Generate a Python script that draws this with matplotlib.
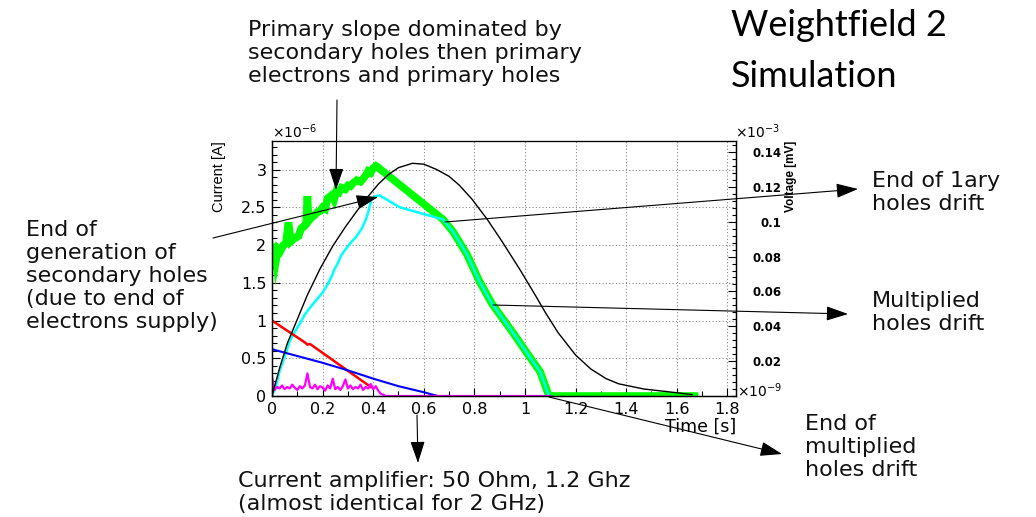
import numpy as np
import matplotlib.pyplot as plt
from matplotlib.patches import FancyArrowPatch
from matplotlib.ticker import MultipleLocator

W, H = 1036, 517

# ---- current components, time in s, current in 1e-6 A ----
green_t = [0.0, 0.008, 0.016, 0.024, 0.033, 0.045, 0.055, 0.065, 0.075, 0.085,
           0.095, 0.105, 0.115, 0.125, 0.135, 0.140, 0.145, 0.155, 0.17, 0.18,
           0.19, 0.20, 0.21, 0.22, 0.235, 0.245, 0.255, 0.265, 0.275, 0.29,
           0.30, 0.31, 0.32, 0.335, 0.35, 0.36, 0.37, 0.38, 0.39, 0.40,
           0.41, 0.42, 0.43, 0.676, 0.715, 0.77, 0.82, 0.87, 0.95, 1.01,
           1.06, 1.095, 1.67]
green_i = [1.75, 2.02, 1.80, 1.95, 1.92, 2.00, 2.02, 2.30, 2.05, 2.08,
           2.10, 2.12, 2.22, 2.25, 2.28, 2.65, 2.32, 2.36, 2.40, 2.44,
           2.45, 2.50, 2.48, 2.62, 2.66, 2.60, 2.72, 2.70, 2.76, 2.74,
           2.79, 2.78, 2.82, 2.86, 2.84, 2.88, 2.92, 2.98, 2.96, 3.02,
           3.05, 3.03, 3.00, 2.34, 2.18, 1.88, 1.52, 1.22, 0.85, 0.56,
           0.32, 0.0, 0.0]

cyan_t = [0.0, 0.015, 0.03, 0.05, 0.07, 0.09, 0.11, 0.13, 0.15, 0.175,
          0.20, 0.22, 0.235, 0.247, 0.26, 0.273, 0.29, 0.313, 0.33, 0.353,
          0.37, 0.38, 0.393, 0.41, 0.425, 0.506, 0.676, 0.715, 0.77, 0.82,
          0.87, 0.95, 1.01, 1.06, 1.095]
cyan_i = [0.0, 0.12, 0.33, 0.52, 0.73, 0.85, 0.96, 1.08, 1.17, 1.27,
          1.37, 1.48, 1.58, 1.68, 1.76, 1.86, 1.94, 2.04, 2.10, 2.21,
          2.33, 2.43, 2.61, 2.65, 2.66, 2.50, 2.34, 2.18, 1.88, 1.52,
          1.22, 0.85, 0.56, 0.32, 0.0]

red_t = [0.0, 0.13, 0.14, 0.15, 0.39]
red_i = [1.0, 0.71, 0.68, 0.69, 0.12]

blue_t = [0.0, 0.1, 0.2, 0.3, 0.4, 0.5, 0.6, 0.655, 0.70]
blue_i = [0.62, 0.53, 0.44, 0.34, 0.23, 0.13, 0.05, 0.0, 0.0]

mag_t = [0.00, 0.01, 0.02, 0.03, 0.04, 0.05, 0.06, 0.07, 0.08, 0.09,
         0.10, 0.11, 0.12, 0.13, 0.14, 0.15, 0.16, 0.17, 0.18, 0.19,
         0.20, 0.21, 0.22, 0.23, 0.24, 0.25, 0.26, 0.27, 0.28, 0.29,
         0.30, 0.31, 0.32, 0.33, 0.34, 0.35, 0.36, 0.37, 0.38, 0.39,
         0.40, 0.41, 0.42, 0.43, 0.45, 1.10]
mag_i = [0.25, 0.08, 0.12, 0.10, 0.14, 0.09, 0.12, 0.10, 0.15, 0.11,
         0.08, 0.13, 0.10, 0.14, 0.30, 0.12, 0.10, 0.15, 0.09, 0.13,
         0.11, 0.07, 0.14, 0.10, 0.23, 0.09, 0.12, 0.08, 0.13, 0.22,
         0.10, 0.14, 0.09, 0.12, 0.10, 0.15, 0.08, 0.12, 0.10, 0.16,
         0.09, 0.13, 0.07, 0.03, 0.0, 0.0]

# ---- amplifier output, voltage in 1e-3 mV ----
volt_t = [0, 0.03, 0.06, 0.10, 0.14, 0.19, 0.24, 0.29, 0.34, 0.38,
          0.42, 0.46, 0.50, 0.555, 0.60, 0.65, 0.70, 0.74, 0.79, 0.85,
          0.91, 0.98, 1.04, 1.08, 1.13, 1.20, 1.26, 1.32, 1.37, 1.47,
          1.58, 1.66]
volt_v = [0, 0.016, 0.030, 0.044, 0.058, 0.073, 0.086, 0.097, 0.107, 0.1145,
          0.1215, 0.127, 0.131, 0.1335, 0.133, 0.130, 0.126, 0.121, 0.113, 0.1015,
          0.0885, 0.0725, 0.058, 0.048, 0.0365, 0.0235, 0.0155, 0.010, 0.007, 0.004,
          0.0022, 0.0008]

x_ticks = [0, 0.2, 0.4, 0.6, 0.8, 1.0, 1.2, 1.4, 1.6, 1.8]
x_labels = ['0', '0.2', '0.4', '0.6', '0.8', '1', '1.2', '1.4', '1.6', '1.8']
i_ticks = [0, 0.5, 1, 1.5, 2, 2.5, 3]
i_labels = ['0', '0.5', '1', '1.5', '2', '2.5', '3']
v_ticks = [0.02, 0.04, 0.06, 0.08, 0.10, 0.12, 0.14]
v_labels = ['0.02', '0.04', '0.06', '0.08', '0.1', '0.12', '0.14']

fig = plt.figure(figsize=(W / 100, H / 100), dpi=100)
ax = fig.add_axes([272 / W, 1 - 396 / H, (736 - 272) / W, (396 - 141) / H])

ax.plot(green_t, green_i, color='#00ff00', lw=5.5, solid_joinstyle='miter')
ax.plot(cyan_t, cyan_i, color='#00ffff', lw=1.8)
ax.plot(red_t, red_i, color='#ff0000', lw=1.8)
ax.plot(blue_t, blue_i, color='#0000ff', lw=1.5)
ax.plot(mag_t, mag_i, color='#ff00ff', lw=1.6)

ax.set_xlim(0, 1.834)
ax.set_ylim(0, 3.38)
ax.set_xticks(x_ticks, x_labels)
ax.set_yticks(i_ticks, i_labels)
ax.xaxis.set_minor_locator(MultipleLocator(0.1))
ax.yaxis.set_minor_locator(MultipleLocator(0.1))
ax.tick_params(which='both', direction='in', labelsize=11.5, top=False, right=False)
ax.tick_params(which='major', length=6, width=0.8)
ax.tick_params(which='minor', length=3.5, width=0.8)
ax.tick_params(axis='x', pad=4)
ax.tick_params(axis='y', pad=4)
ax.grid(True, color='#888888', lw=0.8, ls=(0, (1, 2)))
for s in ax.spines.values():
    s.set_linewidth(1.0)
ax.spines['top'].set_color('#777777')

ax2 = ax.twinx()
ax2.plot(volt_t, volt_v, color='black', lw=1.0)
ax2.set_ylim(0, 0.1463)
ax2.set_yticks(v_ticks)
ax2.set_yticklabels(v_labels, ha='right', fontweight='bold', fontsize=8.5)
ax2.yaxis.set_minor_locator(MultipleLocator(0.004))
ax2.tick_params(which='both', direction='in', pad=33)
ax2.tick_params(which='major', length=6, width=0.8)
ax2.tick_params(which='minor', length=3, width=0.8)

# axis titles, ROOT style
fig.text(219 / W, 1 - 141 / H, 'Current [A]', rotation=90, ha='center', va='top',
         fontsize=10.5, family='Liberation Sans')
fig.text(736 / W, 1 - 432 / H, 'Time [s]', ha='right', va='baseline', fontsize=12.5)
fig.text(791 / W, 1 - 141 / H, 'Voltage [mV]', rotation=90, ha='center', va='top',
         fontsize=8.5, fontweight='bold', family='Liberation Sans')
fig.text(272 / W, 1 - 138 / H, r'$\times$10$^{-6}$', ha='left', va='baseline', fontsize=10)
fig.text(735 / W, 1 - 138 / H, r'$\times$10$^{-3}$', ha='left', va='baseline', fontsize=10)
fig.text(737 / W, 1 - 397 / H, r'$\times$10$^{-9}$', ha='left', va='baseline', fontsize=10)


def block(x, y0, lines, step=23, size=16):
    for k, s in enumerate(lines):
        fig.text(x / W, 1 - (y0 + k * step) / H, s, ha='left', va='baseline',
                 fontsize=size, color='#111111')


def arrow(x0, y0, x1, y1):
    fig.add_artist(FancyArrowPatch((x0 / W, 1 - y0 / H), (x1 / W, 1 - y1 / H),
                                   transform=fig.transFigure,
                                   arrowstyle='-|>,head_length=0.9,head_width=0.3',
                                   mutation_scale=15, lw=0.8, color='black',
                                   shrinkA=0, shrinkB=0))


block(248, 36, ['Primary slope dominated by', 'secondary holes then primary',
                'electrons and primary holes'])
block(26, 236, ['End of', 'generation of', 'secondary holes', '(due to end of',
                'electrons supply)'])
block(872, 187, ['End of 1ary', 'holes drift'])
block(872, 307, ['Multiplied', 'holes drift'])
block(805, 430, ['End of', 'multiplied', 'holes drift'])
block(238, 487, ['Current amplifier: 50 Ohm, 1.2 Ghz', '(almost identical for 2 GHz)'])

fig.text(731 / W, 1 - 36 / H, 'Weightfield 2', ha='left', va='baseline', fontsize=26,
         family='Lato')
fig.text(731 / W, 1 - 87 / H, 'Simulation', ha='left', va='baseline', fontsize=26,
         family='Lato')

arrow(337, 100, 336, 190)
arrow(213, 238, 378, 197)
arrow(445, 222, 858, 189)
arrow(493, 305, 848, 314)
arrow(549, 397, 782, 454)
arrow(417, 415, 418, 463)

fig.savefig('out.png', dpi=100)
